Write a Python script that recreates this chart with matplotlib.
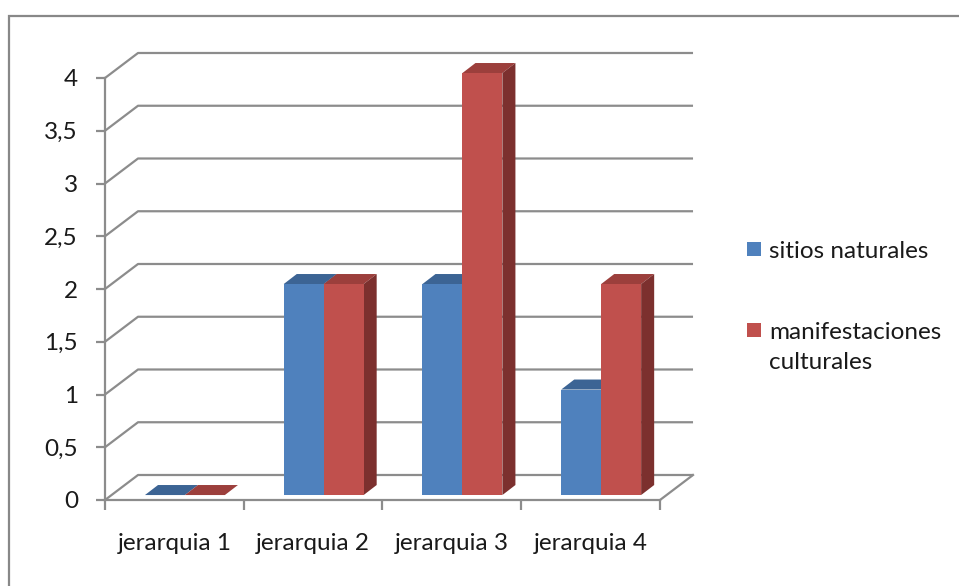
import matplotlib
matplotlib.use("Agg")
import matplotlib.pyplot as plt
from matplotlib.patches import Rectangle, Polygon

# datos
categorias = ["jerarquia 1", "jerarquia 2", "jerarquia 3", "jerarquia 4"]
sitios_naturales = [0, 2, 2, 1]
manifestaciones_culturales = [0, 2, 4, 2]
series = ["sitios naturales", "manifestaciones\nculturales"]
y_ticks = [0, 0.5, 1, 1.5, 2, 2.5, 3, 3.5, 4]
y_labels = ["0", "0,5", "1", "1,5", "2", "2,5", "3", "3,5", "4"]

plt.rcParams['font.family'] = ['Lato', 'DejaVu Sans']

W, H = 959, 586
fig = plt.figure(figsize=(W / 100, H / 100), dpi=100)
ax = fig.add_axes([105 / W, 86 / H, 555 / W, 422 / H])
ax.set_xlim(0, 4)
ax.set_ylim(0, 4)

gris = '#8c8c8c'
texto = '#1a1a1a'
# profundidad del "3D"
px, py = 0.238, 0.237        # pared de fondo
bx, by = 0.094, 0.095        # profundidad de cada barra
off_x, off_y = 0.075, 0.047  # posicion de las barras en la profundidad
ancho = 0.288

# pared de fondo y lineas diagonales
for v in y_ticks:
    ax.plot([0, px, 4 + px], [v, v + py, v + py], color=gris, lw=1.6,
            clip_on=False, zorder=1, solid_capstyle='butt')
ax.plot([4, 4 + px], [0, py], color=gris, lw=1.6, clip_on=False, zorder=1)

colores = [('#4f81bd', '#3c6494', '#385d8a'), ('#c0504d', '#9c3f3c', '#7c302e')]
valores = [sitios_naturales, manifestaciones_culturales]

for i in range(len(categorias)):
    for s in range(2):
        v = valores[s][i]
        x0 = i + 0.213 + off_x + s * ancho
        y0 = off_y
        frente, arriba, lado = colores[s]
        # cara superior
        ax.add_patch(Polygon([(x0, y0 + v), (x0 + ancho, y0 + v),
                              (x0 + ancho + bx, y0 + v + by), (x0 + bx, y0 + v + by)],
                             closed=True, fc=arriba, lw=0, clip_on=False, zorder=3))
        # cara lateral
        if v > 0:
            ax.add_patch(Polygon([(x0 + ancho, y0), (x0 + ancho + bx, y0 + by),
                                  (x0 + ancho + bx, y0 + v + by), (x0 + ancho, y0 + v)],
                                 closed=True, fc=lado, lw=0, clip_on=False, zorder=3))
            # cara frontal
            ax.add_patch(Rectangle((x0, y0), ancho, v, fc=frente, lw=0,
                                   clip_on=False, zorder=3))

for side in ['top', 'right']:
    ax.spines[side].set_visible(False)
for side in ['left', 'bottom']:
    ax.spines[side].set_color(gris)
    ax.spines[side].set_linewidth(1.6)
    ax.spines[side].set_zorder(2)

ax.set_yticks(y_ticks)
ax.set_yticklabels(y_labels)
ax.tick_params(axis='y', direction='out', length=6.5, width=1.6, color=gris,
               pad=13, labelsize=17.5, labelcolor=texto)

ax.set_xticks(range(5))
ax.set_xticklabels([])
ax.set_xticks([i + 0.5 for i in range(4)], minor=True)
ax.set_xticklabels(categorias, minor=True)
ax.tick_params(axis='x', which='major', direction='out', length=7, width=1.6, color=gris)
ax.tick_params(axis='x', which='minor', length=0, pad=24, labelsize=17.5, labelcolor=texto)
ax.patch.set_visible(False)

# leyenda (a mano, el cuadro va con la primera linea)
for k, (nombre, fila) in enumerate(zip(series, [249, 330])):
    fig.add_artist(Rectangle((747 / W, 1 - (fila + 7) / H), 14 / W, 14 / H,
                             transform=fig.transFigure, fc=colores[k][0], lw=0))
    fig.text(769 / W, 1 - (fila - 8) / H, nombre, fontsize=17.5, color=texto,
             ha='left', va='top', linespacing=1.55)

# marco exterior
fig.add_artist(Rectangle((9 / W, -0.1), 1.2, (H - 16) / H + 0.1, transform=fig.transFigure,
                         fill=False, ec='#888888', lw=1.6))

fig.savefig("out.png", dpi=100)
